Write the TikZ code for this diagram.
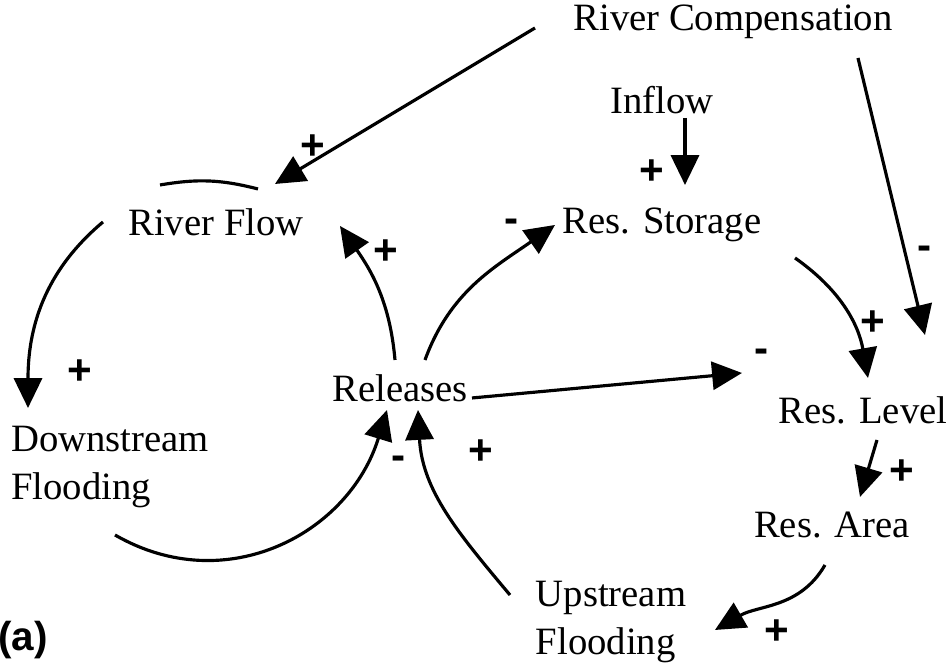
\documentclass[tikz,border=0pt]{standalone}
\usepackage{fontspec}
\setmainfont{Liberation Serif}
\newfontfamily\signfont{Liberation Sans}
\usetikzlibrary{arrows.meta}

\begin{document}
\begin{tikzpicture}[
    every node/.style={font=\fontsize{11}{13.4}\selectfont, inner sep=0pt},
    % one unit = one pixel of the 950 x 665 sketch
    x=0.01cm, y=0.01cm,
]

\tikzset{
    var/.style={align=left},
    link/.style={-{Triangle[length=8.5pt, width=8pt]}, line width=0.9pt},
    sign/.style={font=\signfont\bfseries\fontsize{12}{13}\selectfont},
}

\useasboundingbox (0,0) rectangle (950,665);

% ---------------------------------------------------------------- variables
\node (rcomp)  at (733,643) {River Compensation};
\node (inflow) at (662,565) {Inflow};
\node (rstor)  at (662,440) {Res. Storage};
\node (rflow)  at (216,443) {River Flow};
\node (rel)    at (400,277) {Releases};
\node[var] (dflood) at (110,198) {Downstream\\Flooding};
\node (rlevel) at (863,255) {Res. Level};
\node (rarea)  at (832,140) {Res. Area};
\node[var] (uflood) at (611,43) {Upstream\\Flooding};
\node[font=\signfont\bfseries\fontsize{11.5}{13}\selectfont] (tag) at (23,25) {(a)};

% ---------------------------------------------------------------- links
\draw[link] ([shift={(-198,-6)}]rcomp.center) -- ([shift={(59,38)}]rflow.center);
\draw[link] ([shift={(23,-18)}]inflow.center) -- ([shift={(23,40)}]rstor.center);
\draw[line width=0.9pt] ([shift={(-56,37)}]rflow.center)
    to[bend left=12] ([shift={(42,33)}]rflow.center);
\draw[link] ([shift={(-113,0)}]rflow.center)
    to[out=220, in=90] ([shift={(-82,59)}]dflood.center);
\draw[link] ([shift={(-5,28)}]rel.center)
    to[out=95, in=-55] ([shift={(124,-4)}]rflow.center);
\draw[link] ([shift={(25,28)}]rel.center)
    to[out=70, in=215] ([shift={(-107,0)}]rstor.center);
\draw[link] ([shift={(72,-10)}]rel.center) -- ([shift={(-121,37)}]rlevel.center);
\draw[link] ([shift={(133,-33)}]rstor.center)
    to[out=-35, in=100] ([shift={(5,32)}]rlevel.center);
\draw[link] ([shift={(125,-36)}]rcomp.center) -- ([shift={(62,75)}]rlevel.center);
\draw[link] ([shift={(14,-30)}]rlevel.center) -- ([shift={(28,28)}]rarea.center);
\draw[link] ([shift={(-7,-40)}]rarea.center)
    to[out=240, in=30] ([shift={(104,-8)}]uflood.center);
\draw[link] ([shift={(5,-68)}]dflood.center)
    to[out=-30, in=-107, looseness=1.1] ([shift={(-13,-22)}]rel.center);
\draw[link] ([shift={(-101,27)}]uflood.center)
    to[out=130, in=-87] ([shift={(18,-22)}]rel.center);

% ---------------------------------------------------------------- polarities
\node[sign] (p1)  at (313,518) {+};
\node[sign] (p2)  at (652,493) {+};
\node[sign] (p3)  at (80,293)  {+};
\node[sign] (p4)  at (386,413) {+};
\node[sign] (n1)  at (512,439) {-};
\node[sign] (n2)  at (762,309) {-};
\node[sign] (p5)  at (873,342) {+};
\node[sign] (n3)  at (925,412) {-};
\node[sign] (p6)  at (902,193) {+};
\node[sign] (p7)  at (777,33)  {+};
\node[sign] (n4)  at (399,202) {-};
\node[sign] (p8)  at (481,213) {+};

\end{tikzpicture}
\end{document}
